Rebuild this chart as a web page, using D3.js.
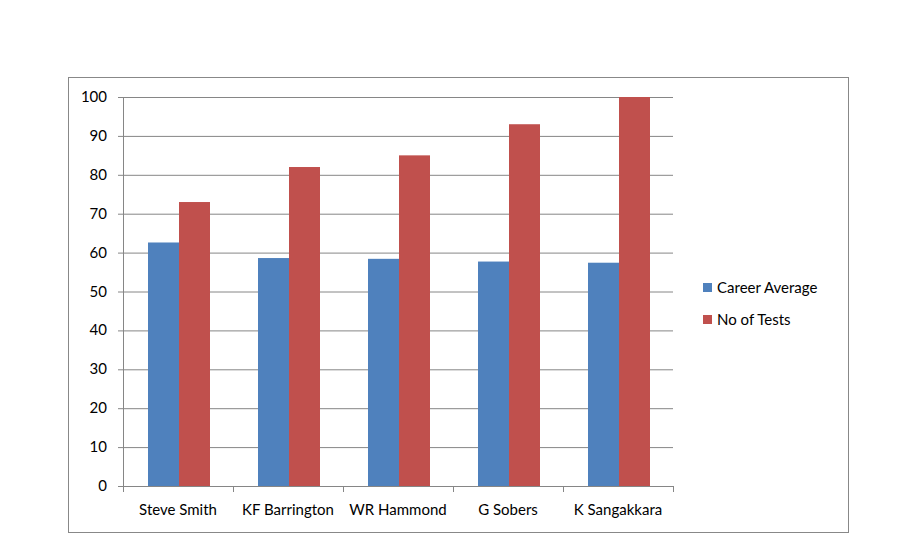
<!DOCTYPE html>
<html><head><meta charset="utf-8">
<script src="https://cdn.jsdelivr.net/npm/d3@7"></script>
<style>body{margin:0;background:#fff}svg{font-family:Lato,"Open Sans",sans-serif}</style>
</head><body><svg id="c" width="910" height="556"></svg>
<script>
const categories = ["Steve Smith","KF Barrington","WR Hammond","G Sobers","K Sangakkara"];
const seriesNames = ["Career Average","No of Tests"];
const careerAverage = [62.6,58.6,58.4,57.7,57.4];
const noOfTests = [73,82,85,93,100];
const yTicks = [0,10,20,30,40,50,60,70,80,90,100];
const colors = ["#4F81BD","#C0504D"];

const svg = d3.select("#c");
svg.append("rect").attr("x",68.5).attr("y",77.5).attr("width",780).attr("height",455)
  .attr("fill","#fff").attr("stroke","#888");
const L=123,R=673,T=97,B=486;
const x0=d3.scaleBand().domain(categories).range([L,R]);
const x1=d3.scaleBand().domain(seriesNames).range([25,87]);
const y=d3.scaleLinear().domain([0,100]).range([B,T]);
const g=svg.append("g");
yTicks.forEach(t=>{
  g.append("line").attr("x1",L-5).attr("x2",R).attr("y1",y(t)+.5).attr("y2",y(t)+.5).attr("stroke","#868686");
  g.append("text").attr("x",L-16).attr("y",y(t)+5).attr("text-anchor","end").attr("font-size",15).attr("fill","#000").text(t);
});
g.append("line").attr("x1",L+.5).attr("x2",L+.5).attr("y1",T).attr("y2",B).attr("stroke","#868686");
categories.forEach((c,i)=>{
  [careerAverage[i],noOfTests[i]].forEach((v,j)=>{
    g.append("rect").attr("x",x0(c)+x1(seriesNames[j])).attr("width",x1.bandwidth())
      .attr("y",y(v)).attr("height",B-y(v)).attr("fill",colors[j]);
  });
  g.append("text").attr("x",x0(c)+x0.bandwidth()/2).attr("y",515).attr("text-anchor","middle")
    .attr("font-size",15).text(c);
});
[...categories.map(c=>x0(c)),R].forEach(xx=>g.append("line").attr("x1",xx+.5).attr("x2",xx+.5).attr("y1",B).attr("y2",B+6).attr("stroke","#868686"));
seriesNames.forEach((s,j)=>{
  const ly=288+j*32;
  svg.append("rect").attr("x",703).attr("y",ly-5).attr("width",9).attr("height",9).attr("fill",colors[j]);
  svg.append("text").attr("x",717).attr("y",ly+5).attr("font-size",15).text(s);
});
</script></body></html>
